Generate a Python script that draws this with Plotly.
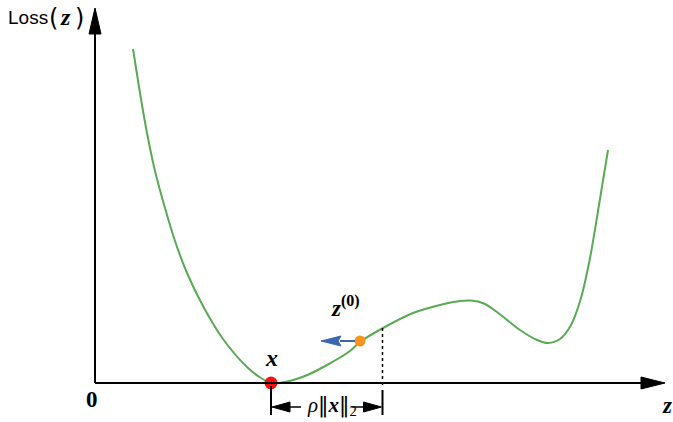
import plotly.graph_objects as go

# ---- data (origin at the axes corner) ----
z_vals = [38, 45, 52, 60, 70, 80, 92, 108, 128, 152, 166, 177, 190, 210, 232, 255, 265,
          288, 318, 345, 362, 376, 389, 402, 425, 442, 453, 465, 476, 486, 495, 504, 513]
loss_vals = [334, 290, 250, 212, 175, 142, 110, 77, 44, 16, 5, 0, 1, 7, 18, 32, 41,
             55, 70, 78, 81.5, 82.5, 79.5, 71, 53, 43, 40, 44, 58, 85, 125, 178, 233]
x_point = (176, 0)      # the minimiser x
z0_point = (265, 42)    # initial point z(0)
rho_end = 287.5          # x + rho*||x||_2

GREEN = "#5aaa55"
ORANGE = "#f7941d"
RED = "#ff1010"
BLUE = "#3a67ad"
SERIF = "Liberation Serif"
SANS = "Liberation Sans"

fig = go.Figure()

# curve
fig.add_trace(go.Scatter(x=z_vals, y=loss_vals, mode="lines",
                         line=dict(color=GREEN, width=2, shape="spline", smoothing=0.8),
                         hoverinfo="skip"))

def tri(pts, color):
    xs = [p[0] for p in pts] + [pts[0][0]]
    ys = [p[1] for p in pts] + [pts[0][1]]
    fig.add_trace(go.Scatter(x=xs, y=ys, mode="lines", fill="toself",
                             fillcolor=color, line=dict(color=color, width=1),
                             hoverinfo="skip"))

def seg(x0, y0, x1, y1, color="black", width=2, dash="solid"):
    fig.add_shape(type="line", x0=x0, y0=y0, x1=x1, y1=y1,
                  line=dict(color=color, width=width, dash=dash))

# axes with arrowheads
seg(0, 0, 0, 352)
tri([(0, 375), (-6, 349), (6, 349)], "black")
seg(0, 0, 550, 0)
tri([(570, 0), (546, 6), (546, -6)], "black")

# dotted vertical line
seg(rho_end, 55, rho_end, -4, width=1.5, dash="dot")

# bracket ticks
seg(x_point[0], -3, x_point[0], -32)
seg(rho_end, -7, rho_end, -32)
# bracket arrows
seg(x_point[0] + 15, -24, x_point[0] + 30, -24, width=1.5)
tri([(x_point[0] + 1, -24), (x_point[0] + 19, -19), (x_point[0] + 19, -29)], "black")
seg(rho_end - 31, -24, rho_end - 15, -24, width=1.5)
tri([(rho_end - 1, -24), (rho_end - 19, -19), (rho_end - 19, -29)], "black")

# blue arrow from z(0)
seg(z0_point[0] - 20, z0_point[1], z0_point[0] - 5, z0_point[1], color=BLUE, width=2)
tri([(z0_point[0] - 39, z0_point[1]), (z0_point[0] - 19, z0_point[1] + 5),
     (z0_point[0] - 22, z0_point[1]), (z0_point[0] - 19, z0_point[1] - 5)], BLUE)

# points
fig.add_trace(go.Scatter(x=[x_point[0]], y=[x_point[1]], mode="markers",
                         marker=dict(color=RED, size=13, line=dict(width=0)), hoverinfo="skip"))
fig.add_trace(go.Scatter(x=[z0_point[0]], y=[z0_point[1]], mode="markers",
                         marker=dict(color=ORANGE, size=11, line=dict(width=0)), hoverinfo="skip"))

def label(x, y, text, family, size, xanchor="center"):
    fig.add_annotation(x=x, y=y, text=text, showarrow=False, xanchor=xanchor,
                       yanchor="middle", font=dict(family=family, size=size, color="black"))

label(-89, 366, "Loss", SANS, 19, xanchor="left")
label(-42, 365, "(", "DejaVu Sans", 24)
label(-30, 366, "<b><i>z</i></b>", SERIF, 24)
label(-16, 365, ")", "DejaVu Sans", 24)
label(x_point[0], 25, "<b><i>x</i></b>", SERIF, 24)
label(z0_point[0] - 15, 77, "<b><i>z</i></b><sup><b>(0)</b></sup>", SERIF, 23)
label(-3, -16, "<b>0</b>", SERIF, 23)
label(572, -22, "<b><i>z</i></b>", SERIF, 23)
label((x_point[0] + rho_end) / 2 + 5, -23,
      "<i>ρ</i><span style='font-family:DejaVu Sans;font-weight:normal'>‖</span><b><i>x</i></b>"
      "<span style='font-family:DejaVu Sans;font-weight:normal'>‖</span><sub>2</sub>", SERIF, 21)

fig.update_layout(width=673, height=422, autosize=False,
                  margin=dict(l=0, r=0, t=0, b=0),
                  paper_bgcolor="white", plot_bgcolor="white",
                  showlegend=False,
                  xaxis=dict(range=[-95, 578], visible=False, fixedrange=True),
                  yaxis=dict(range=[-39, 383], visible=False, fixedrange=True))

fig.write_html("out.html", config={"displayModeBar": False},
               post_script="document.body.style.margin='0';document.body.style.overflow='hidden';")
